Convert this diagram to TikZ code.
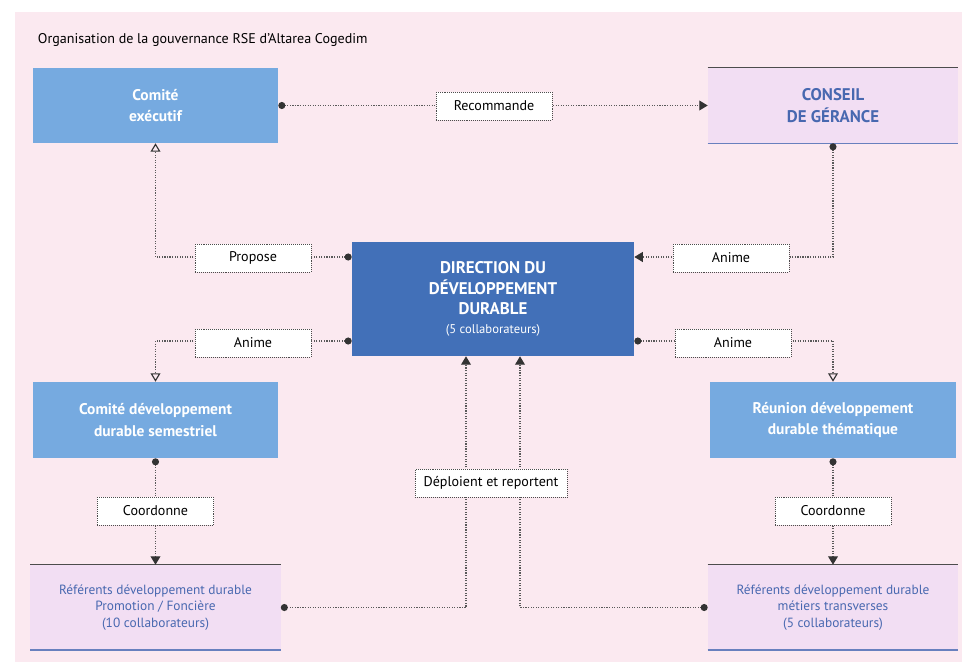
\documentclass[tikz,border=0pt]{standalone}
\usepackage{fontspec}
\setmainfont{PT Sans}
\usetikzlibrary{arrows.meta}
\definecolor{rsepink}{RGB}{251, 233, 240}
\definecolor{rselight}{RGB}{118, 170, 224}
\definecolor{rsedark}{RGB}{66, 112, 184}
\definecolor{rselilac}{RGB}{242, 222, 243}
\definecolor{rsetext}{RGB}{72, 104, 176}
\definecolor{rseline}{RGB}{104, 128, 190}

\begin{document}
\begin{tikzpicture}[x=0.025cm, y=-0.025cm,
    lightbox/.style={fill=rselight, text=white, font=\fontsize{11}{15}\selectfont\bfseries, align=center, minimum width=6.125cm, minimum height=1.9cm},
    lilacbox/.style={fill=rselilac, text=rsetext, align=center, minimum width=6.25cm},
    tag/.style={draw=black!70, densely dotted, fill=white, font=\fontsize{10}{12}\selectfont, minimum width=2.9cm, minimum height=0.7cm},
    link/.style={densely dotted, black!65, thick},
    dotfull/.style={{Circle[length=5pt, black!80]}-{Triangle[length=6pt, width=7pt, black!80]}},
    dotopen/.style={{Circle[length=5pt, black!80]}-{Triangle[open, length=6pt, width=7pt, black!80]}}]
    \useasboundingbox (0,0) rectangle (964,665);
    \fill[white] (0,0) rectangle (964,665);
    \fill[rsepink] (15,12) rectangle (962,662);
    \node[anchor=west, font=\fontsize{10}{12}\selectfont] (title) at (33,40) {Organisation de la gouvernance RSE d'Altarea Cogedim};

    \node[lightbox, minimum height=1.875cm] (comex) at (155.5,105.5) {Comité\\exécutif};
    \node[lilacbox, minimum height=1.875cm, font=\fontsize{12}{16}\selectfont\bfseries] (conseil) at (833,105.5) {CONSEIL\\DE GÉRANCE};
    \node[fill=rsedark, text=white, align=center, minimum width=7.05cm, minimum height=2.85cm, font=\fontsize{12}{14.5}\selectfont\bfseries] (dir) at (493,299) {DIRECTION DU\\DÉVELOPPEMENT\\DURABLE\\[-1pt]{\fontsize{9}{11}\selectfont\mdseries (5 collaborateurs)}};
    \node[lightbox] (semestre) at (155.5,420) {Comité développement\\durable semestriel};
    \node[lightbox] (reunion) at (833,420) {Réunion développement\\durable thématique};
    \node[lilacbox, minimum height=2.125cm, font=\fontsize{9.5}{11.7}\selectfont] (refA) at (155.5,607.5) {Référents développement durable\\Promotion / Foncière\\(10 collaborateurs)};
    \node[lilacbox, minimum height=2.125cm, font=\fontsize{9.5}{11.7}\selectfont] (refB) at (833,607.5) {Référents développement durable\\métiers transverses\\(5 collaborateurs)};

    \draw[black!70, thick] (conseil.north west) -- (conseil.north east);
    \draw[rseline, thick] (conseil.south west) -- (conseil.south east);
    \draw[black!70, thick] (refA.north west) -- (refA.north east);
    \draw[rseline, line width=1.5pt] (refA.south west) -- (refA.south east);
    \draw[black!70, thick] (refB.north west) -- (refB.north east);
    \draw[rseline, line width=1.5pt] (refB.south west) -- (refB.south east);

    \draw[link, dotfull] (comex.east) -- (conseil.west);
    \draw[link, dotfull] (conseil.south) |- ([yshift=1.05cm]dir.east);
    \draw[link, dotopen] ([yshift=1.05cm]dir.west) -| (comex.south);
    \draw[link, dotopen] ([yshift=-1.05cm]dir.west) -| (semestre.north);
    \draw[link, dotopen] ([yshift=-1.05cm]dir.east) -| (reunion.north);
    \draw[link, dotfull] (semestre.south) -- (refA.north);
    \draw[link, dotfull] (reunion.south) -- (refB.north);
    \draw[link, dotfull] (refA.east) -| ([xshift=-0.675cm]dir.south);
    \draw[link, dotfull] (refB.west) -| ([xshift=0.675cm]dir.south);

    \node[tag] (recommande) at (494,106) {Recommande};
    \node[tag] (animeC) at (731,258) {Anime};
    \node[tag] (propose) at (253,258) {Propose};
    \node[tag] (animeL) at (253,343) {Anime};
    \node[tag] (animeR) at (733,343) {Anime};
    \node[tag] (coordL) at (155.5,511) {Coordonne};
    \node[tag] (coordR) at (833,511) {Coordonne};
    \node[tag, minimum width=3.8cm] (deploient) at (491,483) {Déploient et reportent};
\end{tikzpicture}
\end{document}
